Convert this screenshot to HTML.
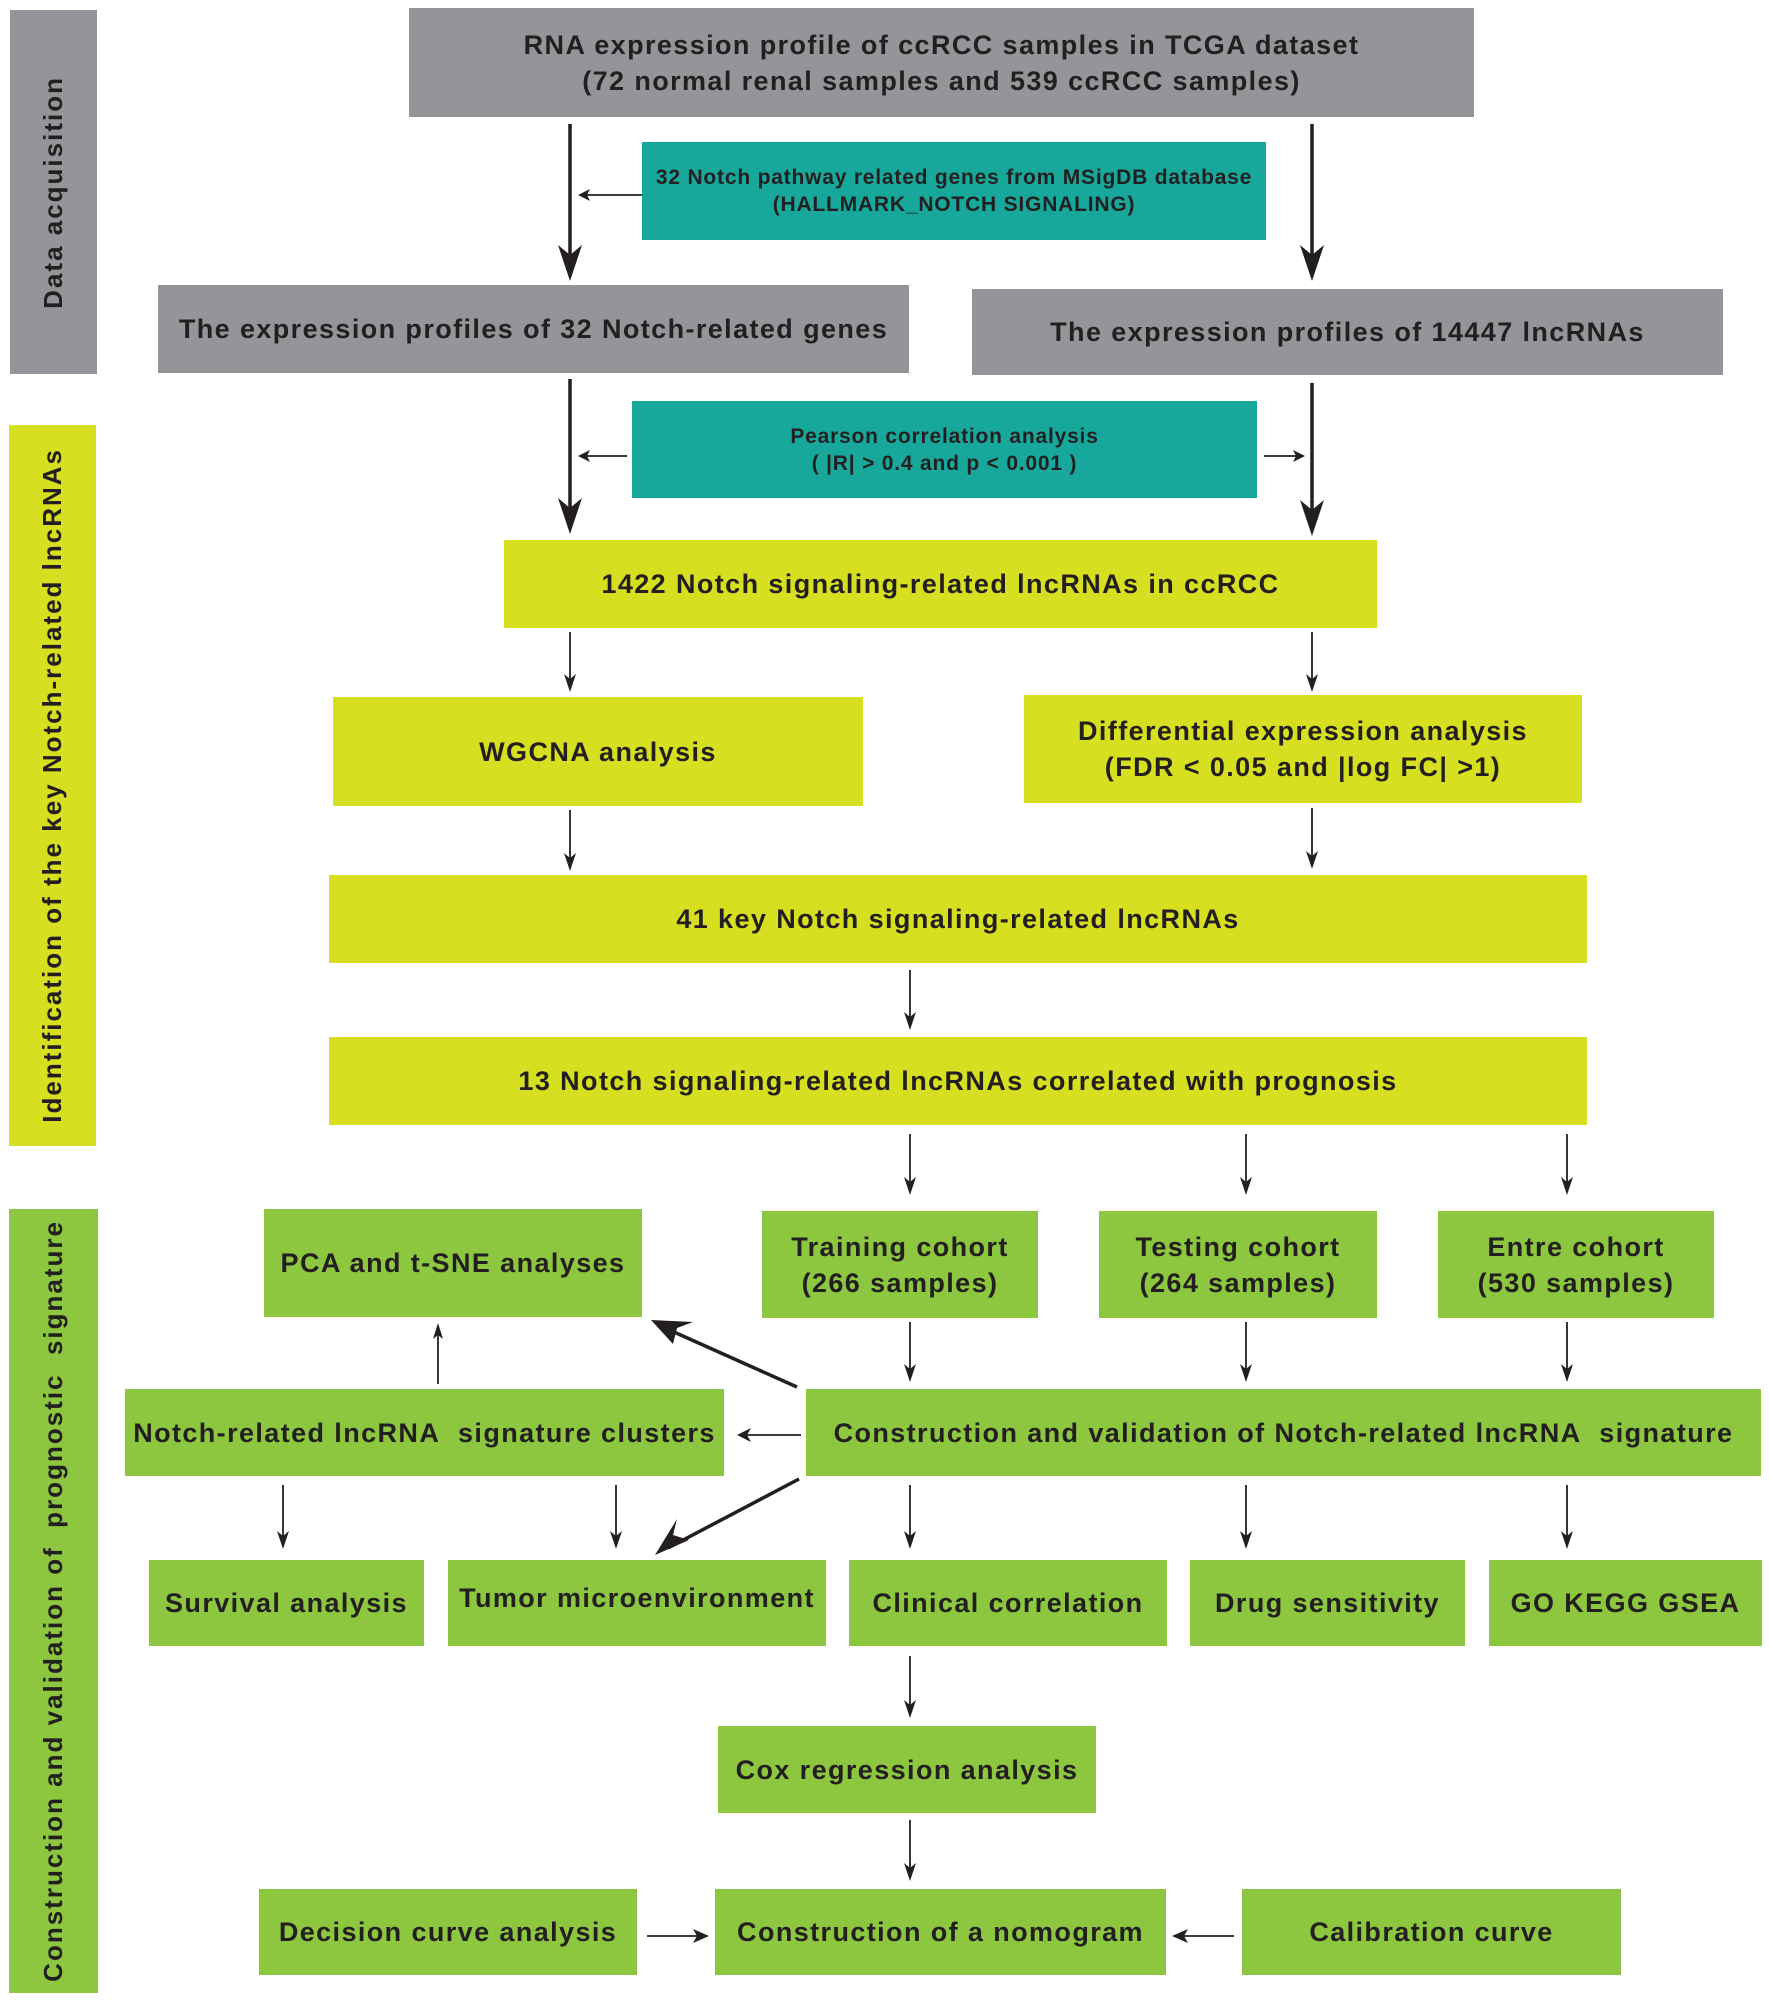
<!DOCTYPE html>
<html><head><meta charset="utf-8"><style>
body{margin:0;width:1770px;height:2004px;background:#fff;position:relative;overflow:hidden;font-family:"Liberation Sans",Arial,sans-serif;font-weight:bold;color:#231f20}
.b{position:absolute;display:flex;align-items:center;justify-content:center;text-align:center;font-size:27px;line-height:36px;box-sizing:border-box;letter-spacing:1.4px;white-space:nowrap}
.g{background:#939598}.t{background:#17a89b;font-size:21px;line-height:27px;letter-spacing:0.8px}.y{background:#d7df21}.gr{background:#8dc63f}
.s{position:absolute;display:flex;align-items:center;justify-content:center;font-size:26px;letter-spacing:2px}
.s span{writing-mode:vertical-rl;transform:rotate(180deg);white-space:pre}
svg{position:absolute;left:0;top:0}
</style></head><body>
<div class="s g" style="left:10px;top:10px;width:87px;height:364px"><span>Data acquisition</span></div>
<div class="s y" style="left:9px;top:425px;width:87px;height:721px"><span>Identification of the key Notch-related lncRNAs</span></div>
<div class="s gr" style="left:9px;top:1209px;width:89px;height:784px"><span>Construction and validation of  prognostic  signature</span></div>

<div class="b g" style="left:409px;top:8px;width:1065px;height:109px">RNA expression profile of ccRCC samples in TCGA dataset<br>(72 normal renal samples and 539 ccRCC samples)</div>
<div class="b t" style="left:642px;top:142px;width:624px;height:98px">32 Notch pathway related genes from MSigDB database<br>(HALLMARK_NOTCH SIGNALING)</div>
<div class="b g" style="left:158px;top:285px;width:751px;height:88px">The expression profiles of 32 Notch-related genes</div>
<div class="b g" style="left:972px;top:289px;width:751px;height:86px">The expression profiles of 14447 lncRNAs</div>
<div class="b t" style="left:632px;top:401px;width:625px;height:97px">Pearson correlation analysis<br>( |R| &gt; 0.4 and p &lt; 0.001 )</div>
<div class="b y" style="left:504px;top:540px;width:873px;height:88px">1422 Notch signaling-related lncRNAs in ccRCC</div>
<div class="b y" style="left:333px;top:697px;width:530px;height:109px">WGCNA analysis</div>
<div class="b y" style="left:1024px;top:695px;width:558px;height:108px">Differential expression analysis<br>(FDR &lt; 0.05 and |log FC| &gt;1)</div>
<div class="b y" style="left:329px;top:875px;width:1258px;height:88px">41 key Notch signaling-related lncRNAs</div>
<div class="b y" style="left:329px;top:1037px;width:1258px;height:88px">13 Notch signaling-related lncRNAs correlated with prognosis</div>
<div class="b gr" style="left:264px;top:1209px;width:378px;height:108px">PCA and t-SNE analyses</div>
<div class="b gr" style="left:762px;top:1211px;width:276px;height:107px">Training cohort<br>(266 samples)</div>
<div class="b gr" style="left:1099px;top:1211px;width:278px;height:107px">Testing cohort<br>(264 samples)</div>
<div class="b gr" style="left:1438px;top:1211px;width:276px;height:107px">Entre cohort<br>(530 samples)</div>
<div class="b gr" style="left:125px;top:1389px;width:599px;height:87px">Notch-related lncRNA&nbsp; signature clusters</div>
<div class="b gr" style="left:806px;top:1389px;width:955px;height:87px">Construction and validation of Notch-related lncRNA&nbsp; signature</div>
<div class="b gr" style="left:149px;top:1560px;width:275px;height:86px">Survival analysis</div>
<div class="b gr" style="left:448px;top:1560px;width:378px;height:86px;align-items:flex-start;padding-top:20px">Tumor microenvironment</div>
<div class="b gr" style="left:849px;top:1560px;width:318px;height:86px">Clinical correlation</div>
<div class="b gr" style="left:1190px;top:1560px;width:275px;height:86px">Drug sensitivity</div>
<div class="b gr" style="left:1489px;top:1560px;width:273px;height:86px">GO KEGG GSEA</div>
<div class="b gr" style="left:718px;top:1726px;width:378px;height:87px">Cox regression analysis</div>
<div class="b gr" style="left:259px;top:1889px;width:378px;height:86px">Decision curve analysis</div>
<div class="b gr" style="left:715px;top:1889px;width:451px;height:86px">Construction of a nomogram</div>
<div class="b gr" style="left:1242px;top:1889px;width:379px;height:86px">Calibration curve</div>

<svg width="1770" height="2004" viewBox="0 0 1770 2004">
<g stroke="#231f20" fill="none">
<g stroke-width="3.5">
<line x1="570" y1="124" x2="570" y2="272"/><line x1="1312" y1="124" x2="1312" y2="272"/>
<line x1="570" y1="379" x2="570" y2="525"/><line x1="1312" y1="383" x2="1312" y2="527"/>
<line x1="797" y1="1387" x2="665" y2="1328"/><line x1="799" y1="1479" x2="668" y2="1548"/>
</g>
<g stroke-width="1.8">
<line x1="642" y1="195" x2="585" y2="195"/><line x1="627" y1="456" x2="585" y2="456"/><line x1="1264" y1="456" x2="1298" y2="456"/>
<line x1="570" y1="632" x2="570" y2="686"/><line x1="1312" y1="632" x2="1312" y2="686"/>
<line x1="570" y1="810" x2="570" y2="865"/><line x1="1312" y1="808" x2="1312" y2="863"/>
<line x1="910" y1="970" x2="910" y2="1024"/>
<line x1="910" y1="1134" x2="910" y2="1189"/><line x1="1246" y1="1134" x2="1246" y2="1189"/><line x1="1567" y1="1134" x2="1567" y2="1189"/>
<line x1="910" y1="1322" x2="910" y2="1376"/><line x1="1246" y1="1322" x2="1246" y2="1376"/><line x1="1567" y1="1322" x2="1567" y2="1376"/>
<line x1="801" y1="1435" x2="744" y2="1435"/>
<line x1="438" y1="1384" x2="438" y2="1330"/>
<line x1="283" y1="1485" x2="283" y2="1543"/><line x1="616" y1="1485" x2="616" y2="1543"/><line x1="910" y1="1485" x2="910" y2="1543"/><line x1="1246" y1="1485" x2="1246" y2="1543"/><line x1="1567" y1="1485" x2="1567" y2="1543"/>
<line x1="910" y1="1656" x2="910" y2="1712"/><line x1="910" y1="1820" x2="910" y2="1875"/>
<line x1="647" y1="1936" x2="703" y2="1936"/><line x1="1234" y1="1936" x2="1178" y2="1936"/>
</g>
</g>
<g fill="#231f20">
<path d="M570,281 l-12,-36 l12,10 l12,-10 Z"/><path d="M1312,281 l-12,-36 l12,10 l12,-10 Z"/>
<path d="M570,534 l-12,-36 l12,10 l12,-10 Z"/><path d="M1312,536 l-12,-36 l12,10 l12,-10 Z"/>
<path d="M578,195 l12,-6 l-3,6 l3,6 Z"/><path d="M578,456 l12,-6 l-3,6 l3,6 Z"/><path d="M1305,456 l-12,-6 l3,6 l-3,6 Z"/>
<path d="M737,1435 l14,-7 l-4,7 l4,7 Z"/>
<path d="M438,1323 l-5,16 l5,-4 l5,4 Z"/>
<path d="M651,1320 l42,2 l-16,6 l-4,16 Z"/>
<path d="M655,1555 l22,-36 l-4,16 l16,5 Z"/>
<path d="M709,1936 l-16,-7 l4,7 l-4,7 Z"/><path d="M1172,1936 l16,-7 l-4,7 l4,7 Z"/>
</g>
<g fill="#231f20">
<path id="h" d="M0,0 l-6,-18 l6,5 l6,-5 Z" transform="translate(570,692)"/>
<use href="#h" transform="translate(742,0)"/>
<use href="#h" transform="translate(0,179)"/><use href="#h" transform="translate(742,177)"/>
<use href="#h" transform="translate(340,338)"/>
<use href="#h" transform="translate(340,503)"/><use href="#h" transform="translate(676,503)"/><use href="#h" transform="translate(997,503)"/>
<use href="#h" transform="translate(340,690)"/><use href="#h" transform="translate(676,690)"/><use href="#h" transform="translate(997,690)"/>
<use href="#h" transform="translate(-287,857)"/><use href="#h" transform="translate(46,857)"/><use href="#h" transform="translate(340,857)"/><use href="#h" transform="translate(676,857)"/><use href="#h" transform="translate(997,857)"/>
<use href="#h" transform="translate(340,1026)"/><use href="#h" transform="translate(340,1189)"/>
</g>
</svg>
</body></html>
